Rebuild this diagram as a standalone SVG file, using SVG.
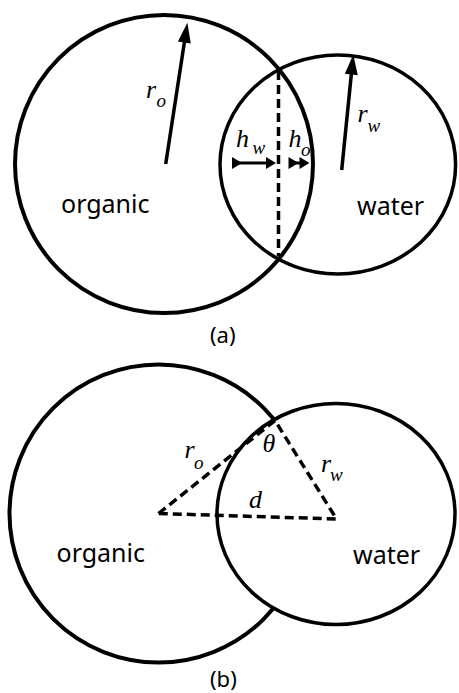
<svg xmlns="http://www.w3.org/2000/svg" width="459" height="693" viewBox="0 0 459 693">
<style>
.org{fill:none;stroke:#000;stroke-width:4}
.wat{fill:none;stroke:#000;stroke-width:3.5}
.watb{fill:#fff;stroke:#000;stroke-width:3.5}
.shaft{stroke:#000;stroke-width:3.5;fill:none}
.dim{stroke:#000;stroke-width:3;fill:none}
.dash{stroke:#000;stroke-width:3.5;fill:none;stroke-dasharray:9 5}
.lbl{font-family:"Noto Sans","Open Sans",sans-serif;font-size:25px;fill:#000}
.cap{font-family:"Noto Sans","Open Sans",sans-serif;font-size:22px;fill:#000}
.sym{font-family:"Liberation Serif","Times New Roman",serif;font-style:italic;font-size:26px;fill:#000}
.sub{font-family:"Liberation Serif","Times New Roman",serif;font-style:italic;font-size:19px;fill:#000}
</style>
<defs>
<marker id="big" markerUnits="userSpaceOnUse" markerWidth="20" markerHeight="13" refX="1" refY="6.5" orient="auto" overflow="visible">
<path d="M0,0 L20,6.5 L0,13 z" fill="#000"/>
</marker>
<marker id="small" markerUnits="userSpaceOnUse" markerWidth="10" markerHeight="12" refX="1" refY="6" orient="auto" overflow="visible">
<path d="M0,0 L10,6 L0,12 z" fill="#000"/>
</marker>
</defs>
<rect width="459" height="693" fill="#fff"/>

<!-- Panel (a) -->
<g id="a-organic">
<circle class="org" cx="164" cy="164" r="149"/>
<text class="lbl" x="61" y="213">organic</text>
</g>
<g id="a-water">
<ellipse class="wat" cx="337.8" cy="164.5" rx="117.8" ry="109.5"/>
<text class="lbl" x="357" y="215">water</text>
</g>
<g id="a-connectors">
<line class="shaft" x1="165.7" y1="164" x2="184.5" y2="41.5" marker-end="url(#big)"/>
<line class="shaft" x1="341.7" y1="170" x2="351.4" y2="73.5" marker-end="url(#big)"/>
<line class="dash" x1="278.5" y1="71" x2="278.5" y2="256"/>
<line class="dim" x1="233" y1="163" x2="267" y2="163" marker-start="url(#small)" marker-end="url(#small)"/>
<line class="dim" x1="289.5" y1="163" x2="300.5" y2="163" marker-start="url(#small)" marker-end="url(#small)"/>
</g>
<g id="a-labels">
<text class="sym" x="146" y="98">r</text><text class="sub" x="156.5" y="107">o</text>
<text class="sym" x="357.5" y="121.5">r</text><text class="sub" x="367.5" y="132">w</text>
<text class="sym" x="236" y="146.5">h</text><text class="sub" x="252.5" y="154">w</text>
<text class="sym" x="288.5" y="146.5">h</text><text class="sub" x="301" y="155.5">o</text>
<text class="cap" x="210" y="343">(a)</text>
</g>

<!-- Panel (b) -->
<g id="b-organic">
<circle class="org" cx="158.5" cy="513.5" r="149"/>
<text class="lbl" x="56.5" y="562">organic</text>
</g>
<g id="b-water">
<ellipse class="watb" cx="336" cy="514" rx="119" ry="110.5"/>
<text class="lbl" x="353" y="564">water</text>
</g>
<g id="b-connectors">
<path class="dash" d="M158.5,513.5 L275,420.5 L336.5,519 Z" stroke-linejoin="miter"/>
</g>
<g id="b-labels">
<text class="sym" x="184.5" y="458.3">r</text><text class="sub" x="194" y="468.5">o</text>
<text class="sym" x="262.5" y="451.7">θ</text>
<text class="sym" x="249" y="508.3">d</text>
<text class="sym" x="321" y="471.7">r</text><text class="sub" x="330" y="480.5">w</text>
<text class="cap" x="210" y="687">(b)</text>
</g>
</svg>
